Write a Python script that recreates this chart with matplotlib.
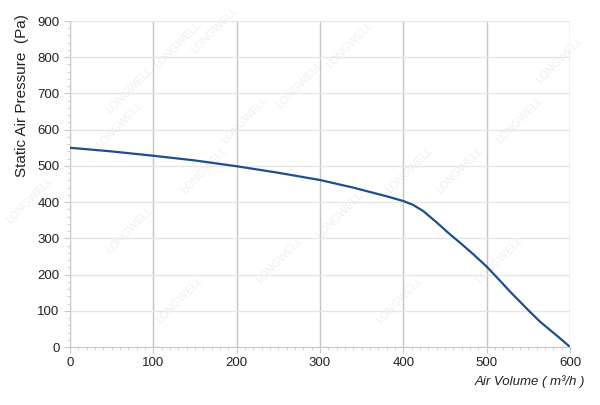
import matplotlib

matplotlib.use("Agg")
import matplotlib.pyplot as plt
from matplotlib.ticker import MultipleLocator

plt.rcParams.update({
    "font.family": ["Liberation Sans", "DejaVu Sans"],
    "font.size": 9,
})

# fan curve
air_volume = [0, 50, 100, 150, 200, 250, 300, 340, 360, 380, 400, 412, 424,
              440, 456, 468, 484, 500, 516, 528, 540, 552, 564, 576, 588, 600]
static_pressure = [550, 540, 528, 515, 499, 481, 461, 440, 428, 416, 403, 392, 375,
                   344, 311, 288, 256, 222, 183, 153, 125, 97, 70, 47, 24, 0]

x_ticks = [0, 100, 200, 300, 400, 500, 600]
y_ticks = [0, 100, 200, 300, 400, 500, 600, 700, 800, 900]

# faint watermark positions (pixel coords of the 600x405 image)
watermarks = [(130, 90), (178, 45), (215, 30), (130, 230), (245, 120), (300, 85),
              (350, 45), (30, 200), (120, 125), (205, 170), (340, 215), (460, 170),
              (520, 120), (560, 60), (500, 260), (400, 300), (280, 260), (180, 300),
              (410, 170)]

fig = plt.figure(figsize=(6.0, 4.05), dpi=100)
ax = fig.add_axes([70 / 600, 1 - 347 / 405, 500 / 600, 326 / 405])

for px, py in watermarks:
    fig.text(px / 600, 1 - py / 405, "LONGWELL", rotation=45, ha="center", va="center",
             fontsize=8, color="#efefef", zorder=-1)

ax.plot(air_volume, static_pressure, color="#1c4f8f", lw=1.6, zorder=3,
        solid_joinstyle="round")

ax.set_xlim(0, 600)
ax.set_ylim(0, 900)
ax.set_xticks(x_ticks)
ax.set_yticks(y_ticks)
ax.xaxis.set_minor_locator(MultipleLocator(10))
ax.yaxis.set_minor_locator(MultipleLocator(20))
ax.set_facecolor("none")

ax.grid(axis="x", which="major", color="#c4c4c4", lw=1.0)
ax.grid(axis="y", which="major", color="#e6e6e6", lw=1.0)
ax.set_axisbelow(True)

for side in ("top", "right"):
    ax.spines[side].set_visible(False)
for side in ("left", "bottom"):
    ax.spines[side].set_color("#c8c8c8")

ax.tick_params(which="major", length=4, color="#c8c8c8", labelsize=9.5, labelcolor="#222222")
ax.tick_params(which="minor", length=2.5, color="#c8c8c8")

fig.text(22 / 600, 1 - 96 / 405, "Static Air Pressure  (Pa)", rotation=90,
         ha="center", va="center", fontsize=11, color="#222222")
fig.text(585 / 600, 1 - 382 / 405, "Air Volume ( m³/h )", ha="right", va="center",
         fontsize=9.5, style="italic", color="#222222")

fig.savefig("out.png", dpi=100)
